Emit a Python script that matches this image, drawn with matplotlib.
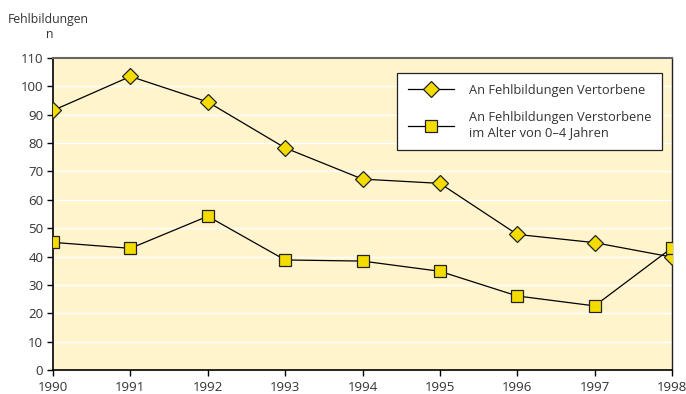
import matplotlib
matplotlib.use("Agg")
import matplotlib.pyplot as plt

years = [1990, 1991, 1992, 1993, 1994, 1995, 1996, 1997, 1998]
verstorbene_gesamt = [91.5, 103.5, 94.5, 78.3, 67.3, 65.8, 47.8, 44.9, 39.8]
verstorbene_0_4 = [45.0, 42.9, 54.2, 38.8, 38.4, 34.8, 26.1, 22.6, 43.1]
label_gesamt = "An Fehlbildungen Vertorbene"
label_0_4 = "An Fehlbildungen Verstorbene\nim Alter von 0–4 Jahren"
y_ticks = list(range(0, 111, 10))

plt.rcParams['font.family'] = ['Open Sans', 'DejaVu Sans']
text_color = '#333333'

fig = plt.figure(figsize=(6.86, 3.94), dpi=100)
ax = fig.add_axes([53/686, 1 - 370/394, (672 - 53)/686, (370 - 58)/394])
ax.set_facecolor('#FFF4CC')

ax.plot(years, verstorbene_gesamt, color='black', lw=0.9, marker='D', ms=8.5,
        mfc='#F5DC00', mec='#222222', mew=0.9, label=label_gesamt, zorder=3)
ax.plot(years, verstorbene_0_4, color='black', lw=0.9, marker='s', ms=8.5,
        mfc='#F5DC00', mec='#222222', mew=0.9, label=label_0_4, zorder=3)

ax.set_xlim(1990, 1998)
ax.set_ylim(0, 110)
ax.set_xticks(years)
ax.set_yticks(y_ticks)
ax.yaxis.grid(True, color='white', lw=1.0)
ax.set_axisbelow(True)
ax.tick_params(axis='both', direction='out', length=4, width=1, color='black',
               labelsize=9.5, labelcolor=text_color)
ax.tick_params(axis='x', pad=4)
ax.tick_params(axis='y', pad=3)

for side in ['left', 'bottom']:
    ax.spines[side].set_color('black')
    ax.spines[side].set_linewidth(1.2)
ax.spines['top'].set_color('#666666')
ax.spines['top'].set_linewidth(1.5)
ax.spines['right'].set_color('#222222')
ax.spines['right'].set_linewidth(1.0)

leg = ax.legend(loc='upper left', bbox_to_anchor=((397 - 53)/619, 1 - (73 - 58)/312),
                frameon=True, fancybox=False, fontsize=9.3, handlelength=3.6,
                borderpad=0.85, labelspacing=1.1, handletextpad=1.1,
                labelcolor=text_color, borderaxespad=0)
leg.get_frame().set_edgecolor('#222222')
leg.get_frame().set_linewidth(0.9)
leg.get_frame().set_facecolor('white')
leg.get_frame().set_alpha(1)

fig.text(8/686, 1 - 20/394, "Fehlbildungen", fontsize=8.8, color=text_color,
         ha='left', va='center')
fig.text(50/686, 1 - 34/394, "n", fontsize=8.8, color=text_color,
         ha='center', va='center')

fig.savefig("out.png", dpi=100)
